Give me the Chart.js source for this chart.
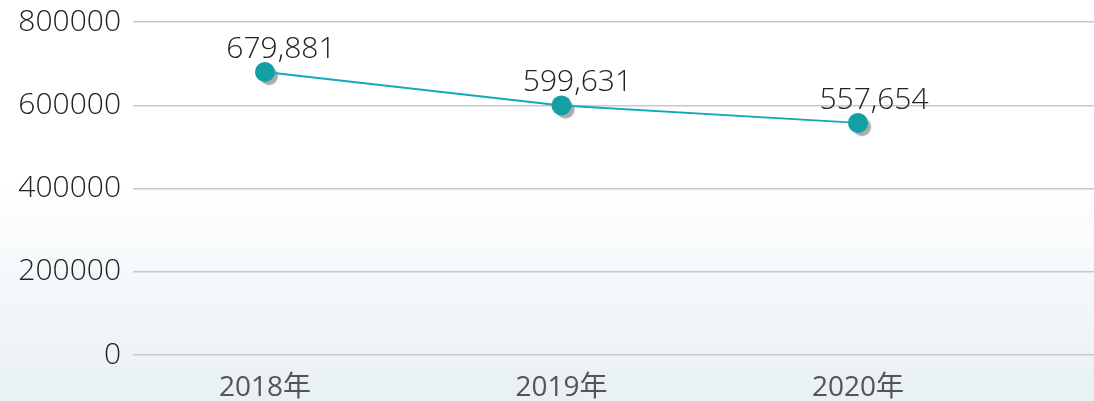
<!DOCTYPE html>
<html>
<head>
<meta charset="utf-8">
<script src="https://cdn.jsdelivr.net/npm/chart.js@4/dist/chart.umd.min.js"></script>
<style>
  html, body { margin: 0; padding: 0; background: #fff; }
  #wrap { width: 1094px; height: 401px; }
</style>
</head>
<body>
<div id="wrap"><canvas id="c"></canvas></div>
<script>
// data
var years = [2018, 2019, 2020];
var values = [679881, 599631, 557654];
var yTicks = [0, 200000, 400000, 600000, 800000];

var fontFam = '"Open Sans", "Noto Sans CJK SC", sans-serif';

// background gradient, white at top to pale blue at bottom
var bgPlugin = {
  id: 'bg',
  beforeDraw: function (chart) {
    var ctx = chart.ctx;
    var g = ctx.createLinearGradient(0, 0, 0, chart.height);
    g.addColorStop(0, '#ffffff');
    g.addColorStop(0.45, '#ffffff');
    g.addColorStop(1, '#e8f0f4');
    ctx.save();
    ctx.fillStyle = g;
    ctx.fillRect(0, 0, chart.width, chart.height);
    ctx.restore();
  }
};

// grey shadow under each point
var shadowPlugin = {
  id: 'ptShadow',
  beforeDatasetsDraw: function (chart) {
    var ctx = chart.ctx;
    ctx.save();
    ctx.fillStyle = 'rgba(140,140,140,0.6)';
    ctx.shadowColor = 'rgba(140,140,140,0.6)';
    ctx.shadowBlur = 3;
    chart.getDatasetMeta(0).data.forEach(function (p) {
      ctx.beginPath();
      ctx.arc(p.x + 4, p.y + 4, 9, 0, Math.PI * 2);
      ctx.fill();
    });
    ctx.restore();
  }
};

// value labels above points
var labelPlugin = {
  id: 'valLabels',
  afterDatasetsDraw: function (chart) {
    var ctx = chart.ctx;
    ctx.save();
    ctx.font = '300 30px ' + fontFam;
    ctx.fillStyle = '#222';
    ctx.textAlign = 'center';
    ctx.textBaseline = 'alphabetic';
    chart.getDatasetMeta(0).data.forEach(function (p, i) {
      ctx.fillText(values[i].toLocaleString('en-US'), p.x + 16, p.y - 14);
    });
    ctx.restore();
  }
};

var ctx = document.getElementById('c').getContext('2d');
new Chart(ctx, {
  type: 'line',
  data: {
    datasets: [{
      data: years.map(function (y, i) { return { x: y, y: values[i] }; }),
      borderColor: '#14a9b8',
      borderWidth: 2,
      tension: 0,
      pointRadius: 10,
      pointHoverRadius: 10,
      pointBackgroundColor: '#139fa6',
      pointBorderWidth: 0
    }]
  },
  options: {
    responsive: true,
    maintainAspectRatio: false,
    animation: false,
    layout: { autoPadding: false, padding: 0 },
    plugins: {
      legend: { display: false },
      tooltip: { enabled: false }
    },
    scales: {
      x: {
        type: 'linear',
        min: 2017.555,
        max: 2020.796,
        afterBuildTicks: function (axis) {
          axis.ticks = years.map(function (y) { return { value: y }; });
        },
        afterFit: function (axis) { axis.height = 46; },
        grid: { display: false },
        border: { display: false },
        ticks: {
          padding: 8,
          color: '#555',
          font: { family: fontFam, size: 28 },
          callback: function (v) { return v + '年'; }
        }
      },
      y: {
        min: 0,
        max: 800000,
        afterBuildTicks: function (axis) {
          axis.ticks = yTicks.map(function (v) { return { value: v }; });
        },
        afterFit: function (axis) {
          axis.width = 133;
          axis.paddingTop = 22;
        },
        grid: { color: '#c8c8c8', lineWidth: 1.5, drawTicks: false },
        border: { display: false },
        ticks: {
          padding: 12,
          color: '#222',
          font: { family: fontFam, size: 30, weight: 300 },
          callback: function (v) { return String(v); }
        }
      }
    }
  },
  plugins: [bgPlugin, shadowPlugin, labelPlugin]
});
</script>
</body>
</html>
